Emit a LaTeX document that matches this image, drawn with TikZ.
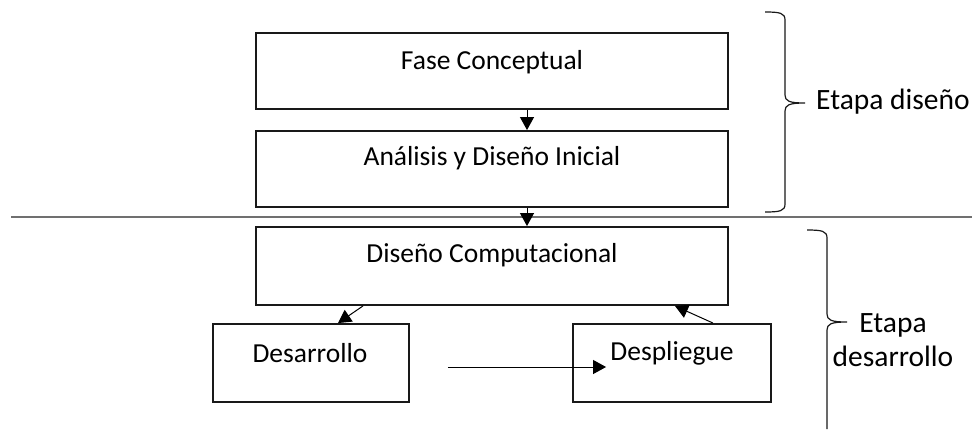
\documentclass[tikz,border=0pt]{standalone}
\usepackage{fontspec}
\setmainfont{Carlito}
\usetikzlibrary{arrows.meta}
\definecolor{rule}{RGB}{112,112,112}
\definecolor{ink}{RGB}{25,25,25}
\tikzset{
  stagebox/.style={draw=ink, line width=1.9pt, rectangle, inner sep=0pt},
  boxtext/.style={font=\fontsize{27.5}{30}\selectfont, inner sep=0pt, anchor=center},
  flow/.style={draw=black, line width=1pt, -{Triangle[length=13pt,width=14pt]}},
  brace/.style={draw=ink, line width=1.2pt},
  phase/.style={font=\fontsize{29.5}{34}\selectfont, align=center, inner sep=0pt}
}
\begin{document}
\begin{tikzpicture}[x=1pt,y=-1pt]
\useasboundingbox (0,0) rectangle (977,429);

% process boxes
\node[stagebox, minimum width=472pt, minimum height=76pt] (fase) at (492,71) {};
\node[stagebox, minimum width=472pt, minimum height=76pt] (analisis) at (492,169) {};
\node[stagebox, minimum width=472pt, minimum height=78pt] (comp) at (492,266) {};
\node[stagebox, minimum width=196pt, minimum height=78pt] (desa) at (311,363) {};
\node[stagebox, minimum width=198pt, minimum height=78pt] (desp) at (672,363) {};

% box captions
\node[boxtext] (tfase) at (492,62) {Fase Conceptual};
\node[boxtext] (tanalisis) at (492,158) {Análisis y Diseño Inicial};
\node[boxtext] (tcomp) at (492,255) {Diseño Computacional};
\node[boxtext] (tdesa) at (310,353) {Desarrollo};
\node[boxtext] (tdesp) at (672,353) {Despliegue};

% separator between the two stages
\coordinate (sepL) at (11,217);
\coordinate (sepR) at (972,217);
\draw[rule, line width=2.2pt] (sepL) -- (sepR);

% connectors
\draw[flow] ([xshift=35pt]fase.south) -- ([xshift=35pt]analisis.north);
\draw[flow] ([xshift=35pt]analisis.south) -- ([xshift=35pt]comp.north);
\draw[flow] ([xshift=-129pt]comp.south) -- ([xshift=27pt]desa.north);
\draw[flow] ([xshift=41pt]desp.north) -- ([xshift=183pt]comp.south);
\coordinate (hstart) at ([xshift=38pt,yshift=-4pt]desa.east);
\draw[flow] (hstart) -- ([xshift=34pt,yshift=-4pt]desp.west);

% stage braces
\draw[brace] (765,12) .. controls (780,12) and (785,13) .. (785,20)
  -- (785,95) .. controls (785,101) and (789,103) .. (805,103)
  .. controls (789,103) and (785,105) .. (785,111)
  -- (785,204) .. controls (785,211) and (780,212) .. (765,212);
\draw[brace] (807,230) .. controls (822,230) and (827,231) .. (827,238)
  -- (827,314) .. controls (827,320) and (831,322) .. (847,322)
  .. controls (831,322) and (827,324) .. (827,330)
  -- (827,429);

% stage labels
\node[phase] (etapa1) at (893,102) {Etapa diseño};
\node[phase] (etapa2) at (893,340) {Etapa\\desarrollo};
\end{tikzpicture}
\end{document}
